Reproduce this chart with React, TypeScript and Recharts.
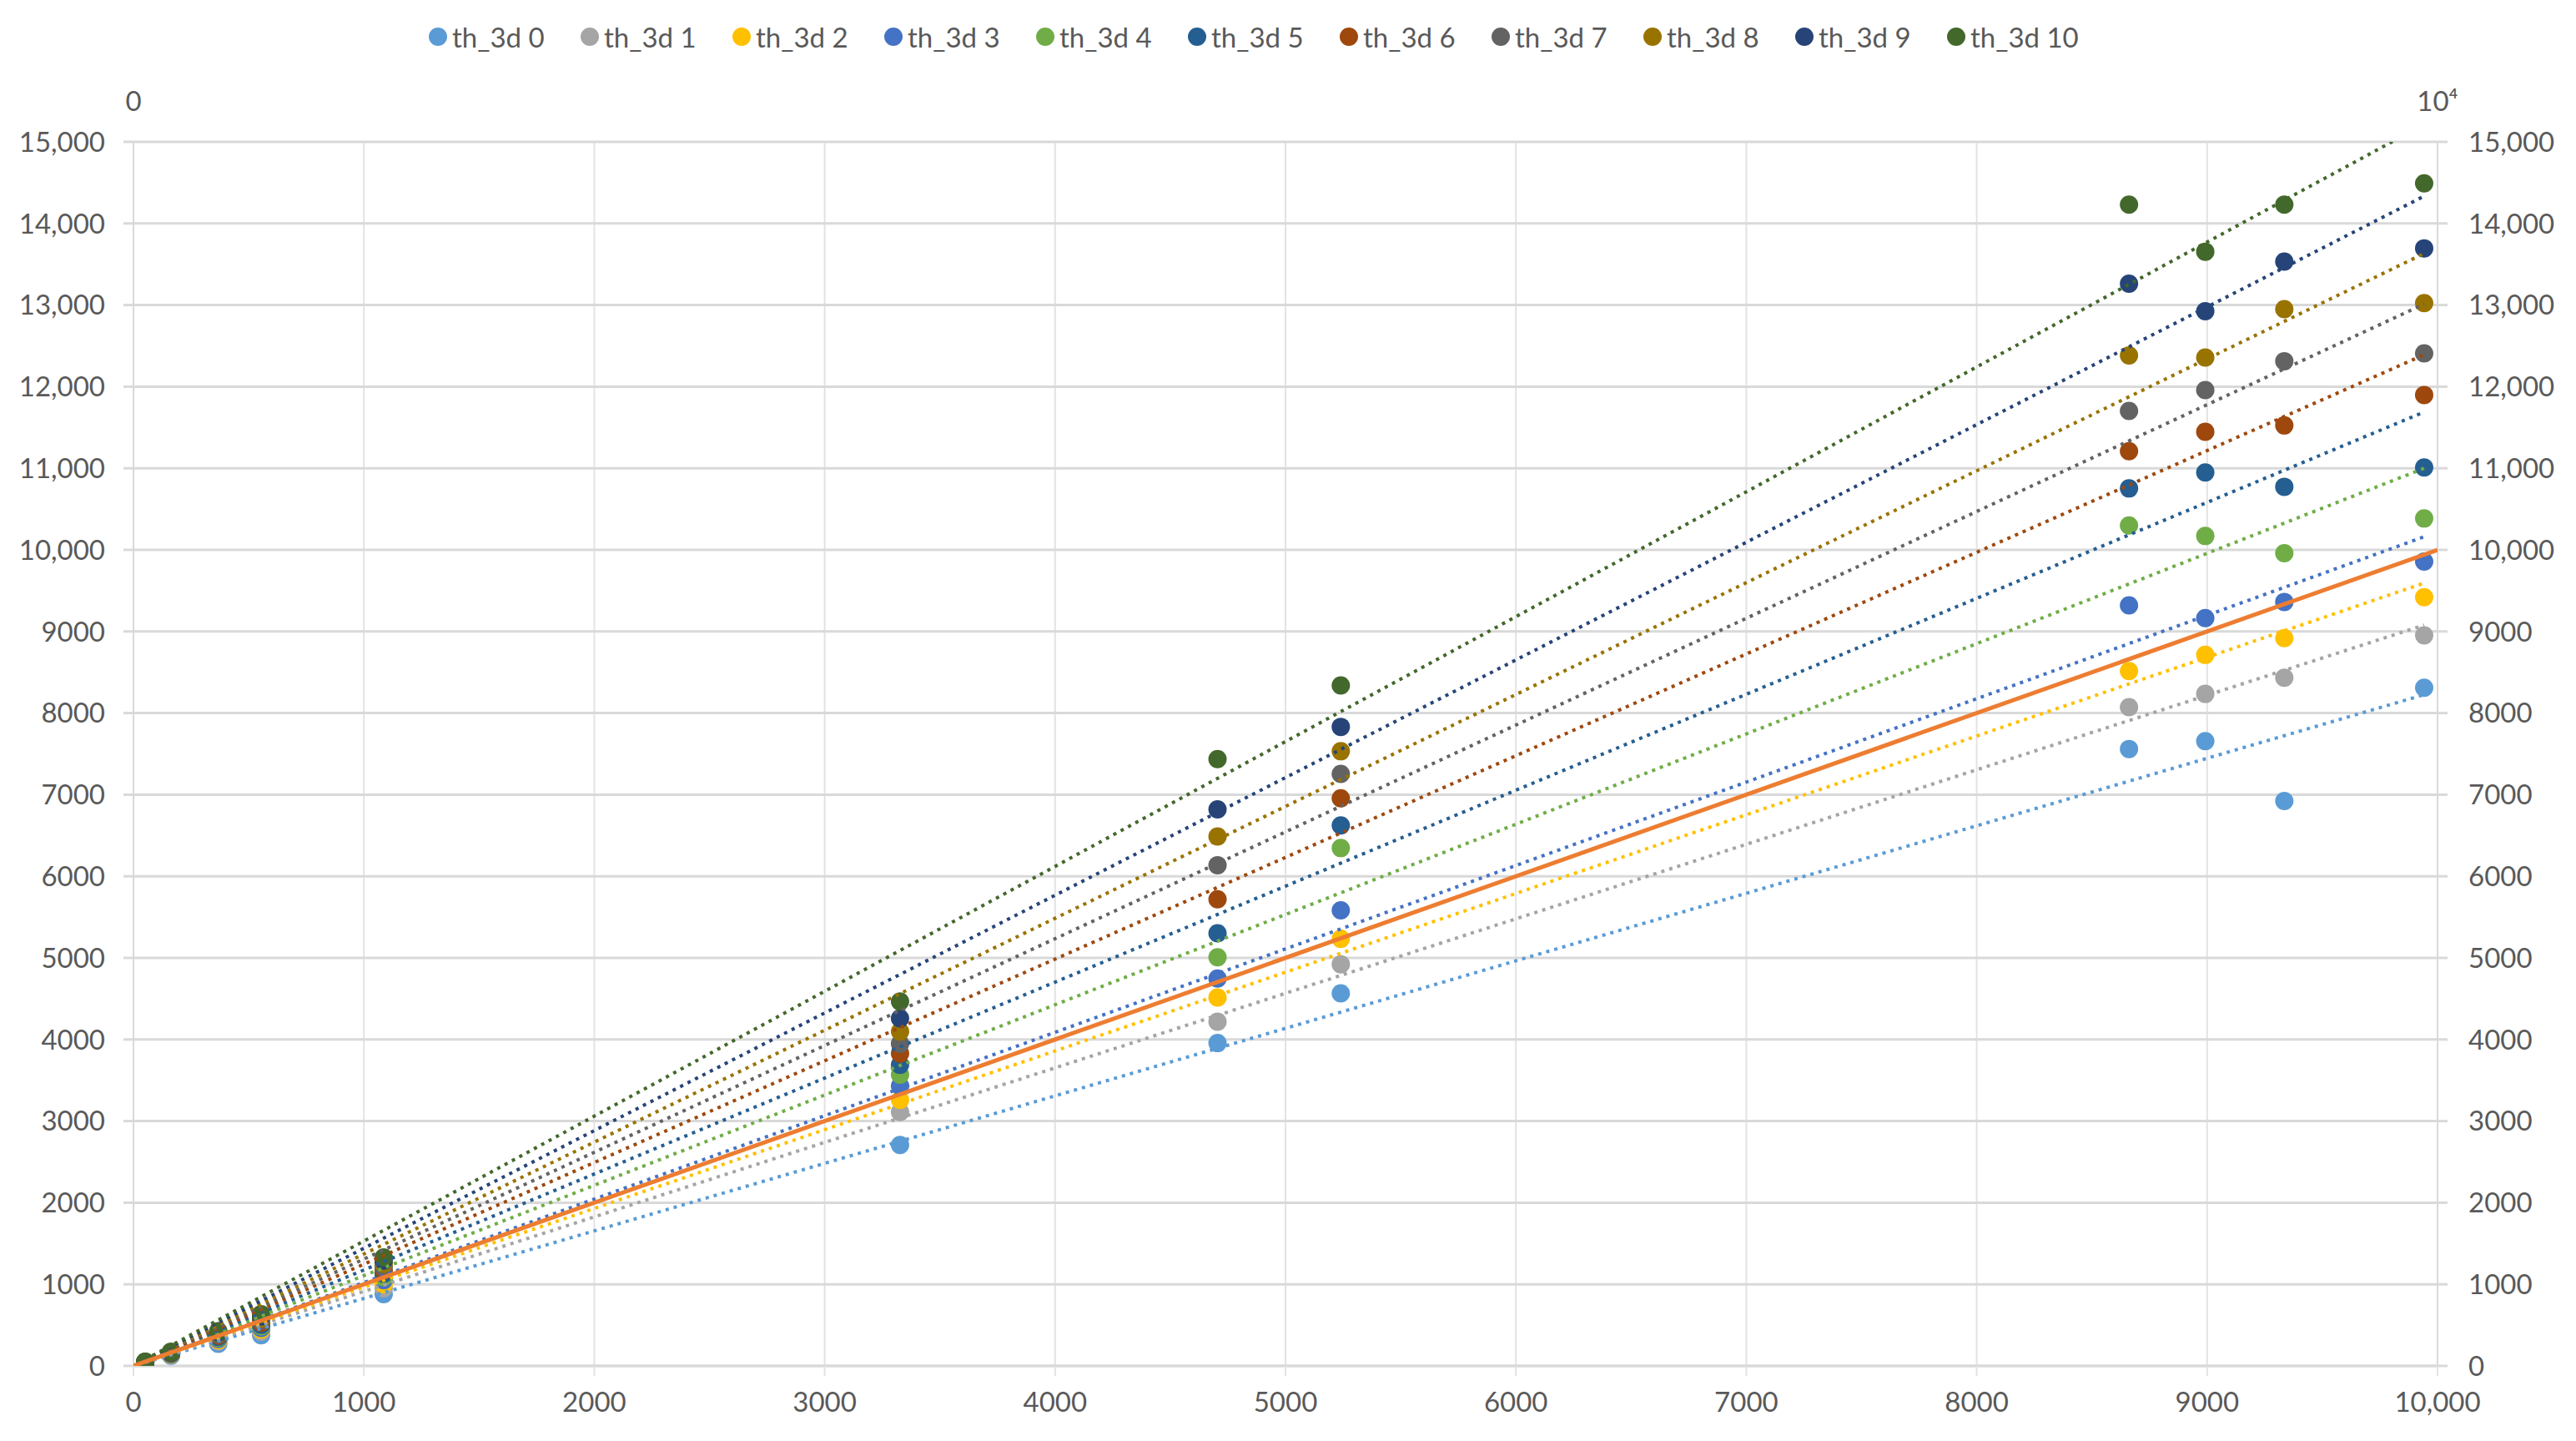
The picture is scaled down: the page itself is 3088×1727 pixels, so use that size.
import React from "react";
import { ScatterChart, Scatter, XAxis, YAxis, CartesianGrid, Legend } from "recharts";

// x positions shared by every series
const X_VALUES = [51, 163, 368, 554, 1086, 3327, 4705, 5240, 8661, 8992, 9335, 9942];

const TH_3D_0 = [38, 125, 270, 375, 880, 2707, 3956, 4566, 7560, 7655, 6922, 8311];
const TH_3D_1 = [40, 135, 300, 420, 950, 3110, 4217, 4922, 8072, 8235, 8433, 8952];
const TH_3D_2 = [42, 140, 315, 445, 1000, 3259, 4515, 5234, 8515, 8713, 8918, 9420];
const TH_3D_3 = [43, 145, 330, 465, 1050, 3431, 4746, 5583, 9321, 9164, 9362, 9857];
const TH_3D_4 = [44, 148, 345, 485, 1090, 3569, 5007, 6346, 10300, 10170, 9959, 10385];
const TH_3D_5 = [45, 152, 355, 505, 1130, 3690, 5302, 6624, 10753, 10949, 10773, 11010];
const TH_3D_6 = [46, 155, 370, 530, 1170, 3828, 5719, 6956, 11210, 11447, 11525, 11898];
const TH_3D_7 = [47, 158, 385, 555, 1210, 3948, 6136, 7254, 11702, 11959, 12312, 12407];
const TH_3D_8 = [48, 162, 400, 580, 1250, 4097, 6488, 7532, 12383, 12356, 12949, 13024];
const TH_3D_9 = [49, 167, 410, 605, 1290, 4259, 6820, 7831, 13261, 12925, 13532, 13695];
const TH_3D_10 = [50, 175, 427, 635, 1330, 4466, 7437, 8339, 14230, 13654, 14230, 14492];

const SERIES_VALUES = [TH_3D_0, TH_3D_1, TH_3D_2, TH_3D_3, TH_3D_4, TH_3D_5, TH_3D_6, TH_3D_7, TH_3D_8, TH_3D_9, TH_3D_10];
const SERIES_NAMES = ["th_3d 0", "th_3d 1", "th_3d 2", "th_3d 3", "th_3d 4", "th_3d 5", "th_3d 6", "th_3d 7", "th_3d 8", "th_3d 9", "th_3d 10"];
const COLORS = ["#5B9BD5", "#A5A5A5", "#FFC000", "#4472C4", "#70AD47", "#255E91", "#9E480E", "#636363", "#997300", "#264478", "#43682B"];

// reference line y = x
const IDEAL_X = [0, 10000];
const IDEAL_Y = [0, 10000];

const X_TICKS = [0, 1000, 2000, 3000, 4000, 5000, 6000, 7000, 8000, 9000, 10000];
const Y_TICKS = [0, 1000, 2000, 3000, 4000, 5000, 6000, 7000, 8000, 9000, 10000, 11000, 12000, 13000, 14000, 15000];
const TOP_TICKS = [0, 10000];
const TOP_LABELS = ["0", "10\u2074"];

const GRID = "#D9D9D9";
const TEXT = "#595959";
const FONT = "Lato, 'Open Sans', sans-serif";

const fmt = (v: number) => (v >= 10000 ? v.toLocaleString("en-US") : String(v));

// linear trendline forced through the origin (least squares)
function trend(values: number[]) {
    let sxy = 0;
    let sxx = 0;
    X_VALUES.forEach((x, i) => {
        sxy += x * values[i];
        sxx += x * x;
    });
    const k = sxy / sxx;
    const x0 = Math.min(...X_VALUES);
    const x1 = Math.max(...X_VALUES);
    return [{ x: x0, y: k * x0 }, { x: x1, y: k * x1 }];
}

const noShape = () => <g />;

function LegendBox() {
    return (
        <div style={{ display: "flex", alignItems: "center", fontFamily: FONT, fontSize: 33, color: TEXT, whiteSpace: "nowrap" }}>
            {SERIES_NAMES.map((name, i) => (
                <div key={name} style={{ display: "flex", alignItems: "center", width: i < SERIES_NAMES.length - 1 ? 182 : undefined }}>
                    <svg width={22} height={22} style={{ marginRight: 6 }}>
                        <circle cx={11} cy={11} r={11} fill={COLORS[i]} />
                    </svg>
                    <span>{name}</span>
                </div>
            ))}
        </div>
    );
}

export default function App() {
    const tick = { fill: TEXT, fontSize: 33, fontFamily: FONT };

    return (
        <div style={{ width: 3088, height: 1727, background: "#fff" }}>
            <style>{"body{margin:0}"}</style>
            <ScatterChart width={3088} height={1727} margin={{ top: 90, right: 40, bottom: 20, left: 20 }} style={{ fontFamily: FONT }}>
                <CartesianGrid horizontal={false} stroke="#E3E3E3" strokeWidth={2} />
                <CartesianGrid vertical={false} stroke={GRID} strokeWidth={3} />
                <XAxis
                    dataKey="x"
                    type="number"
                    domain={[0, 10000]}
                    ticks={X_TICKS}
                    allowDataOverflow
                    height={70}
                    tickFormatter={fmt}
                    tick={tick}
                    tickSize={12}
                    tickMargin={20}
                    axisLine={{ stroke: GRID, strokeWidth: 3 }}
                    tickLine={{ stroke: "#E3E3E3", strokeWidth: 2 }}
                />
                <XAxis
                    xAxisId="top"
                    orientation="top"
                    dataKey="x"
                    type="number"
                    domain={[0, 10000]}
                    ticks={TOP_TICKS}
                    allowDataOverflow
                    height={80}
                    tickFormatter={(v: number) => TOP_LABELS[TOP_TICKS.indexOf(v)]}
                    tick={tick}
                    tickSize={0}
                    tickMargin={37}
                    axisLine={false}
                    tickLine={false}
                />
                <YAxis
                    dataKey="y"
                    type="number"
                    domain={[0, 15000]}
                    ticks={Y_TICKS}
                    allowDataOverflow
                    width={140}
                    tickFormatter={fmt}
                    tick={tick}
                    tickSize={12}
                    tickMargin={22}
                    axisLine={{ stroke: GRID, strokeWidth: 2 }}
                    tickLine={{ stroke: GRID, strokeWidth: 3 }}
                />
                <YAxis
                    yAxisId="right"
                    orientation="right"
                    dataKey="y"
                    type="number"
                    domain={[0, 15000]}
                    ticks={Y_TICKS}
                    allowDataOverflow
                    width={126}
                    tickFormatter={fmt}
                    tick={{ ...tick, textAnchor: "start" }}
                    tickSize={12}
                    tickMargin={25}
                    axisLine={{ stroke: GRID, strokeWidth: 2 }}
                    tickLine={{ stroke: GRID, strokeWidth: 3 }}
                />
                <Legend verticalAlign="middle" wrapperStyle={{ top: 24, left: 514, width: "auto" }} content={() => <LegendBox />} />

                {SERIES_VALUES.map((values, i) => (
                    <Scatter
                        key={"pts" + i}
                        name={SERIES_NAMES[i]}
                        data={X_VALUES.map((x, j) => ({ x, y: values[j] }))}
                        fill={COLORS[i]}
                        shape={(p: any) => <circle cx={p.cx} cy={p.cy} r={11} fill={COLORS[i]} />}
                        isAnimationActive={false}
                    />
                ))}
                {SERIES_VALUES.map((values, i) => (
                    <Scatter
                        key={"trend" + i}
                        name={SERIES_NAMES[i] + " trend"}
                        data={trend(values)}
                        legendType="none"
                        line={{ stroke: COLORS[i], strokeWidth: 4, strokeDasharray: "4 6" }}
                        shape={noShape}
                        isAnimationActive={false}
                    />
                ))}
                <Scatter
                    name="ideal"
                    xAxisId="top"
                    yAxisId="right"
                    data={IDEAL_X.map((x, j) => ({ x, y: IDEAL_Y[j] }))}
                    legendType="none"
                    line={{ stroke: "#ED7D31", strokeWidth: 5 }}
                    shape={noShape}
                    isAnimationActive={false}
                />
            </ScatterChart>
        </div>
    );
}
